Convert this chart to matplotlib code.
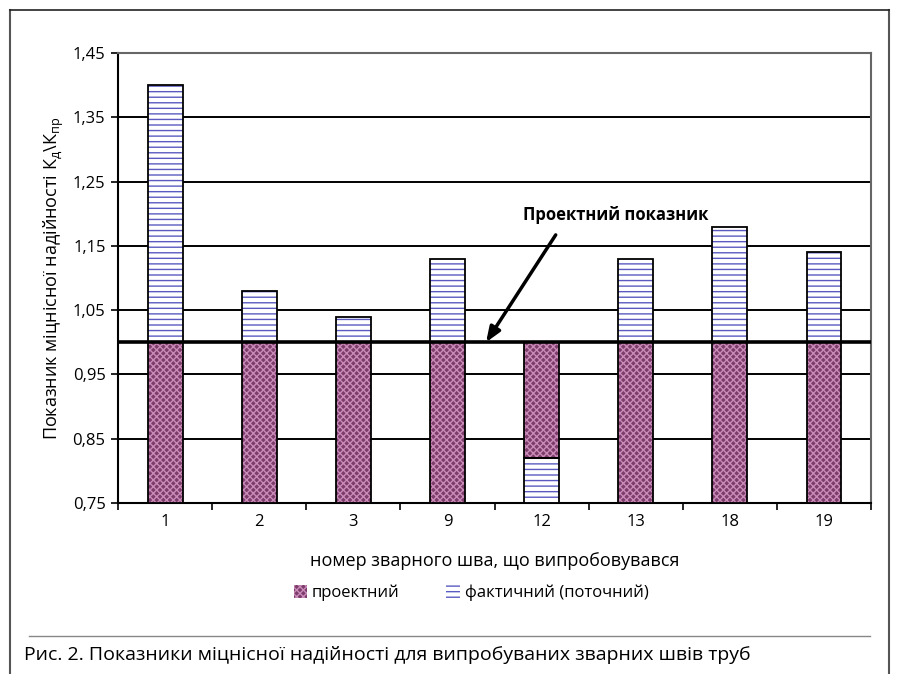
import numpy as np
import matplotlib
matplotlib.use("Agg")
import matplotlib.pyplot as plt
from matplotlib.patches import Patch
from matplotlib.lines import Line2D

plt.rcParams['font.family'] = ['Open Sans', 'DejaVu Sans']
plt.rcParams['mathtext.fontset'] = 'custom'
plt.rcParams['mathtext.rm'] = 'Open Sans'
plt.rcParams['mathtext.it'] = 'Open Sans'
plt.rcParams['hatch.linewidth'] = 1.0

# weld seams that were tested
seams = ["1", "2", "3", "9", "12", "13", "18", "19"]
# design (project) reliability level
design = [1.0, 1.0, 1.0, 1.0, 1.0, 1.0, 1.0, 1.0]
# actual (current) reliability Kd/Kpr
actual = [1.40, 1.08, 1.04, 1.13, 0.82, 1.13, 1.18, 1.14]

ybase = 0.75
yticks = [0.75, 0.85, 0.95, 1.05, 1.15, 1.25, 1.35, 1.45]

purple = '#7d3c6c'
purple_dots = '#c98cb8'
stripe = '#5a5ac0'

fig = plt.figure(figsize=(8.97, 6.74), dpi=100)
ax = fig.add_axes([0.1316, 0.2537, 0.8394, 0.6677])

x = np.arange(len(seams))
w = 0.37

for i in range(len(seams)):
    d, a = design[i], actual[i]
    if a >= d:
        seg_d = (ybase, d)
        seg_a = (d, a)
    else:
        seg_a = (ybase, a)
        seg_d = (a, d)
    # design part: dark purple with light dot pattern
    ax.bar(x[i], seg_d[1] - seg_d[0], bottom=seg_d[0], width=w,
           color=purple, edgecolor=purple_dots, linewidth=0, hatch='xxxxx', zorder=3)
    ax.bar(x[i], seg_d[1] - seg_d[0], bottom=seg_d[0], width=w,
           facecolor='none', edgecolor='black', linewidth=1.3, zorder=4)
    # actual part: white with horizontal blue stripes
    ax.bar(x[i], seg_a[1] - seg_a[0], bottom=seg_a[0], width=w,
           color='white', edgecolor=stripe, linewidth=0, hatch='---', zorder=3)
    ax.bar(x[i], seg_a[1] - seg_a[0], bottom=seg_a[0], width=w,
           facecolor='none', edgecolor='black', linewidth=1.3, zorder=4)

# design level line
ax.axhline(1.0, color='black', lw=2.6, zorder=5)

ax.set_xlim(-0.5, len(seams) - 0.5)
ax.set_ylim(0.75, 1.45)
ax.set_yticks(yticks)
ax.set_yticklabels([f"{v:.2f}".replace('.', ',') for v in yticks], fontsize=12)
ax.set_xticks(x)
ax.set_xticklabels(seams, fontsize=12)
ax.set_xticks(np.arange(-0.5, len(seams)), minor=True)
ax.tick_params(axis='x', which='major', length=0, pad=8)
ax.tick_params(axis='x', which='minor', length=5, width=1.2, direction='out')
ax.tick_params(axis='y', length=5, width=1.2, direction='out', pad=4)

ax.grid(axis='y', color='black', lw=1.4, zorder=1)
ax.set_axisbelow(True)
for s in ['left', 'bottom']:
    ax.spines[s].set_color('black')
    ax.spines[s].set_linewidth(1.5)
for s in ['top', 'right']:
    ax.spines[s].set_color('#666666')
    ax.spines[s].set_linewidth(1.5)

ax.set_ylabel(r'Показник міцнісної надійності $\mathregular{К_{д}\backslash К_{пр}}$',
              fontsize=13, labelpad=5)
ax.set_xlabel('номер зварного шва, що випробовувався', fontsize=13, labelpad=16)

# pointer to the design level
ax.text(4.79, 1.198, 'Проектний показник', fontsize=12, fontweight='bold',
        ha='center', va='center', zorder=6)
ax.annotate('', xy=(3.41, 1.0), xytext=(4.15, 1.167),
            arrowprops=dict(arrowstyle='-|>,head_length=0.9,head_width=0.35',
                            color='black', lw=2.5, shrinkA=0, shrinkB=0),
            zorder=6)

handles = [Patch(facecolor=purple, edgecolor=purple_dots, hatch='xxxxx', linewidth=0),
           Patch(facecolor='white', edgecolor=stripe, hatch='---', linewidth=0)]
fig.legend(handles, ['проектний', 'фактичний (поточний)'], loc='center',
           bbox_to_anchor=(0.525, 0.12), ncol=2, frameon=False, fontsize=12,
           handlelength=0.8, handleheight=0.8, handletextpad=0.3, columnspacing=2.8)

# page frame, separator and caption
fig.add_artist(Line2D([10 / 897, 10 / 897], [0, 664 / 674], color='#555555', lw=1.5))
fig.add_artist(Line2D([889 / 897, 889 / 897], [0, 664 / 674], color='#555555', lw=1.5))
fig.add_artist(Line2D([10 / 897, 889 / 897], [664 / 674, 664 / 674], color='#222222', lw=1.2))
fig.add_artist(Line2D([29 / 897, 870 / 897], [38 / 674, 38 / 674], color='#888888', lw=1.0))
fig.text(24 / 897, 19 / 674,
         'Рис. 2. Показники міцнісної надійності для випробуваних зварних швів труб',
         fontsize=14, ha='left', va='center')

fig.savefig('out.png', dpi=100)
